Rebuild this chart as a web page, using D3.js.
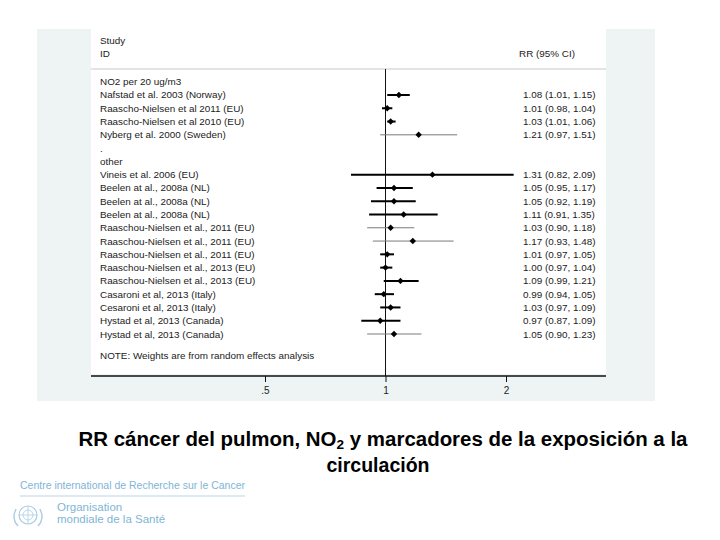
<!DOCTYPE html>
<html>
<head>
<meta charset="utf-8">
<script src="https://cdn.jsdelivr.net/npm/d3@7"></script>
<style>
  body { margin: 0; background: #fff; }
  svg { display: block; font-family: "Liberation Sans", Arial, Helvetica, sans-serif; }
</style>
</head>
<body>
<script>
// forest plot rows, top to bottom (null = header / spacer row)
const rowLabels = [
  "NO2 per 20 ug/m3",
  "Nafstad et al. 2003 (Norway)",
  "Raascho-Nielsen et al 2011 (EU)",
  "Raascho-Nielsen et al 2010 (EU)",
  "Nyberg et al. 2000 (Sweden)",
  ".",
  "other",
  "Vineis et al. 2006 (EU)",
  "Beelen at al., 2008a (NL)",
  "Beelen at al., 2008a (NL)",
  "Beelen at al., 2008a (NL)",
  "Raaschou-Nielsen et al., 2011 (EU)",
  "Raaschou-Nielsen et al., 2011 (EU)",
  "Raaschou-Nielsen et al., 2011 (EU)",
  "Raaschou-Nielsen et al., 2013 (EU)",
  "Raaschou-Nielsen et al., 2013 (EU)",
  "Casaroni et al, 2013 (Italy)",
  "Cesaroni et al, 2013 (Italy)",
  "Hystad et al, 2013 (Canada)",
  "Hystad et al, 2013 (Canada)"
];
const rr   = [null, 1.08, 1.01, 1.03, 1.21, null, null, 1.31, 1.05, 1.05, 1.11, 1.03, 1.17, 1.01, 1.00, 1.09, 0.99, 1.03, 0.97, 1.05];
const ciLo = [null, 1.01, 0.98, 1.01, 0.97, null, null, 0.82, 0.95, 0.92, 0.91, 0.90, 0.93, 0.97, 0.97, 0.99, 0.94, 0.97, 0.87, 0.90];
const ciHi = [null, 1.15, 1.04, 1.06, 1.51, null, null, 2.09, 1.17, 1.19, 1.35, 1.18, 1.48, 1.05, 1.04, 1.21, 1.05, 1.09, 1.09, 1.23];
const xTicks = [0.5, 1, 2];
const xTickLabels = [".5", "1", "2"];

// rows drawn with a thin grey CI line instead of the heavy black one
const thinRows = new Set([4, 11, 12, 19]);

const W = 720, H = 540;
const panel = {x0: 37, x1: 655, y0: 29, y1: 401};
const plot = {x0: 91, x1: 606, y0: 29, y1: 374};
const axisY = 376;

const svg = d3.select("body").append("svg").attr("width", W).attr("height", H);

svg.append("rect").attr("x", panel.x0).attr("y", panel.y0)
  .attr("width", panel.x1 - panel.x0).attr("height", panel.y1 - panel.y0)
  .attr("fill", "#eef4f4");
svg.append("rect").attr("x", plot.x0).attr("y", plot.y0)
  .attr("width", plot.x1 - plot.x0).attr("height", plot.y1 - plot.y0)
  .attr("fill", "#fff");

const x = d3.scaleLog().domain([0.5, 2]).range([265, 506]);
const y = d3.scaleLinear().domain([0, rowLabels.length - 1]).range([81.7, 334]);

const fs = 9.9;
const txt = "#222";

// header
svg.append("text").attr("x", 100).attr("y", 43.5).attr("font-size", fs).attr("fill", txt).text("Study");
svg.append("text").attr("x", 100).attr("y", 56.5).attr("font-size", fs).attr("fill", txt).text("ID");
svg.append("text").attr("x", 519).attr("y", 56.5).attr("font-size", fs).attr("fill", txt).text("RR (95% CI)");
svg.append("line").attr("x1", plot.x0).attr("x2", plot.x1).attr("y1", 69).attr("y2", 69)
  .attr("stroke", "#c8c8c8").attr("stroke-width", 1);

// null line
svg.append("line").attr("x1", x(1)).attr("x2", x(1)).attr("y1", 69).attr("y2", axisY)
  .attr("stroke", "#111").attr("stroke-width", 1);

// study labels
svg.append("g").selectAll("text").data(rowLabels).join("text")
  .attr("x", 100).attr("y", (d, i) => y(i) + 3.5)
  .attr("font-size", fs).attr("fill", txt)
  .text(d => d);

const idx = d3.range(rowLabels.length).filter(i => rr[i] != null);

// CIs
svg.append("g").selectAll("line").data(idx).join("line")
  .attr("x1", i => x(ciLo[i])).attr("x2", i => x(ciHi[i]))
  .attr("y1", i => y(i)).attr("y2", i => y(i))
  .attr("stroke", i => thinRows.has(i) ? "#7a7a7a" : "#000")
  .attr("stroke-width", i => thinRows.has(i) ? 1 : 2);

// point estimates
svg.append("g").selectAll("path").data(idx).join("path")
  .attr("d", i => {
    const cx = x(rr[i]), cy = y(i), r = 3.2;
    return `M${cx - r},${cy}L${cx},${cy - r}L${cx + r},${cy}L${cx},${cy + r}Z`;
  })
  .attr("fill", "#000");

// RR text
svg.append("g").selectAll("text").data(idx).join("text")
  .attr("x", 523).attr("y", i => y(i) + 3.5)
  .attr("font-size", fs).attr("fill", txt)
  .text(i => `${rr[i].toFixed(2)} (${ciLo[i].toFixed(2)}, ${ciHi[i].toFixed(2)})`);

svg.append("text").attr("x", 100).attr("y", 358.5).attr("font-size", fs).attr("fill", txt)
  .text("NOTE: Weights are from random effects analysis");

// x axis
svg.append("line").attr("x1", plot.x0).attr("x2", plot.x1).attr("y1", axisY).attr("y2", axisY)
  .attr("stroke", "#111").attr("stroke-width", 1.3);
const ax = svg.append("g").attr("transform", `translate(0,${axisY})`)
  .call(d3.axisBottom(x).tickValues(xTicks).tickFormat((d, i) => xTickLabels[i]).tickSize(6).tickSizeOuter(0));
ax.select(".domain").remove();
ax.selectAll("line").attr("stroke", "#111");
ax.selectAll("text").attr("font-size", 10).attr("font-family", "Liberation Sans, Arial, sans-serif")
  .attr("fill", txt).attr("dy", "0.9em");

// title
const title = svg.append("text").attr("x", 383).attr("y", 446).attr("text-anchor", "middle")
  .attr("font-size", 19.5).attr("font-weight", "bold").attr("fill", "#000")
  .attr("textLength", 609).attr("lengthAdjust", "spacingAndGlyphs");
title.append("tspan").text("RR cáncer del pulmon, NO");
title.append("tspan").attr("font-size", 13).attr("dy", 3).text("2");
title.append("tspan").attr("dy", -3).text(" y marcadores de la exposición a la");
svg.append("text").attr("x", 378).attr("y", 472).attr("text-anchor", "middle")
  .attr("font-size", 19.5).attr("font-weight", "bold").attr("fill", "#000").text("circulación");

// IARC / WHO footer
const logoC = "#7fb5d5";
svg.append("text").attr("x", 20).attr("y", 489).attr("font-size", 11.5).attr("fill", logoC)
  .attr("textLength", 225).attr("lengthAdjust", "spacingAndGlyphs")
  .text("Centre international de Recherche sur le Cancer");
svg.append("line").attr("x1", 20).attr("x2", 245).attr("y1", 496).attr("y2", 496)
  .attr("stroke", "#b9d6e6").attr("stroke-width", 1);
const emb = svg.append("g").attr("transform", "translate(28,515)").attr("fill", "none").attr("stroke", "#a9cde2");
emb.append("circle").attr("r", 9).attr("stroke-width", 1.2);
emb.append("circle").attr("r", 5).attr("stroke-width", 0.8);
emb.append("line").attr("x1", 0).attr("x2", 0).attr("y1", -9).attr("y2", 9).attr("stroke-width", 0.8);
emb.append("line").attr("x1", -9).attr("x2", 9).attr("y1", 0).attr("y2", 0).attr("stroke-width", 0.8);
emb.append("path").attr("d", "M-12,-6C-15,0 -15,6 -10,11M12,-6C15,0 15,6 10,11").attr("stroke-width", 1.4);
svg.append("text").attr("x", 57).attr("y", 511).attr("font-size", 11.5).attr("fill", logoC).text("Organisation");
svg.append("text").attr("x", 57).attr("y", 523).attr("font-size", 11.5).attr("fill", logoC).text("mondiale de la Santé");
</script>
</body>
</html>
